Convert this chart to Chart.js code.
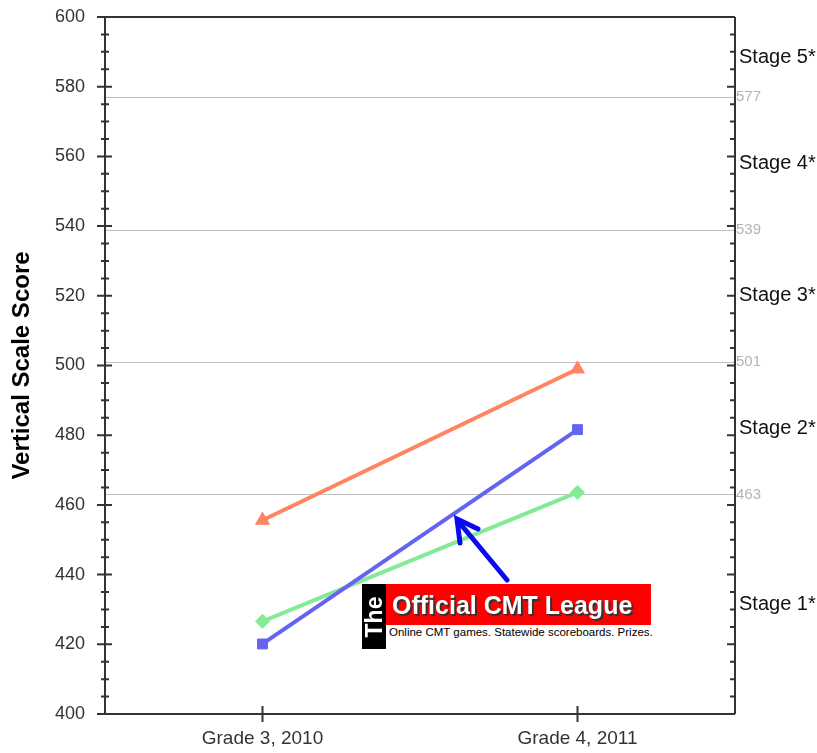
<!DOCTYPE html>
<html>
<head>
<meta charset="utf-8">
<script src="https://cdn.jsdelivr.net/npm/chart.js@4.4.0/dist/chart.umd.min.js"></script>
<style>
  body { margin: 0; background: #fff; }
  #wrap { position: relative; width: 817px; height: 753px; }
  #chart { position: absolute; left: 0; top: 0; }
  .logo { position: absolute; font-family: "Liberation Sans", Arial, sans-serif; }
  .logo-the { left: 362px; top: 584px; width: 24px; height: 65px; background: #000; }
  .logo-the span { position: absolute; left: 50%; top: 50%; transform: translate(-50%, -50%) rotate(-90deg);
    color: #fff; font-weight: bold; font-size: 23px; }
  .logo-red { left: 386px; top: 584px; width: 265px; height: 41px; background: #f00; color: #fff;
    font-weight: bold; font-size: 25px; line-height: 42px; padding-left: 6px; box-sizing: border-box;
    text-shadow: 1px 1px 0 #333, 2px 2px 1px #333; white-space: nowrap; overflow: hidden; }
  .logo-sub { left: 386px; top: 625px; width: 270px; height: 24px; background: #fff; color: #000;
    font-size: 11.5px; line-height: 14px; padding-left: 3px; box-sizing: border-box; white-space: nowrap; }
  #arrow { position: absolute; left: 0; top: 0; }
</style>
</head>
<body>
<div id="wrap">
  <canvas id="chart" width="817" height="753"></canvas>
  <svg id="arrow" width="817" height="753">
    <g stroke="#0a0af0" stroke-width="5" stroke-linecap="round" fill="none">
      <line x1="507" y1="580" x2="458" y2="521"/>
      <polyline points="460,543 457,519 478,529"/>
    </g>
  </svg>
  <div class="logo logo-the"><span>The</span></div>
  <div class="logo logo-red">Official CMT League</div>
  <div class="logo logo-sub">Online CMT games. Statewide scoreboards. Prizes.</div>
</div>
<script>
// data
const categories = ['Grade 3, 2010', 'Grade 4, 2011'];
const seriesOrange = [455.6, 499];
const seriesBlue = [420.1, 481.6];
const seriesGreen = [426.6, 463.6];
const cutScores = [463, 501, 539, 577];
const stageNames = ['Stage 1*', 'Stage 2*', 'Stage 3*', 'Stage 4*', 'Stage 5*'];
const yMin = 400, yMax = 600;

const FONT = '"Liberation Sans", Arial, sans-serif';

// ticks, frame, cut lines and stage labels
const decor = {
	id: 'decor',
	beforeDatasetsDraw(chart) {
		const ctx = chart.ctx, a = chart.chartArea, y = chart.scales.y;
		ctx.save();
		ctx.strokeStyle = '#c0c0c0';
		ctx.lineWidth = 1;
		cutScores.forEach(v => {
			const py = Math.round(y.getPixelForValue(v)) + 0.5;
			ctx.beginPath();
			ctx.moveTo(a.left, py);
			ctx.lineTo(a.right, py);
			ctx.stroke();
		});
		ctx.restore();
	},
	afterDraw(chart) {
		const ctx = chart.ctx, a = chart.chartArea, y = chart.scales.y, x = chart.scales.x;
		ctx.save();
		ctx.strokeStyle = '#333';
		ctx.lineWidth = 2;
		ctx.beginPath();
		ctx.moveTo(a.left - 8, a.top); ctx.lineTo(a.right, a.top);
		ctx.moveTo(a.left - 8, a.bottom); ctx.lineTo(a.right, a.bottom);
		ctx.moveTo(a.left, a.top); ctx.lineTo(a.left, a.bottom);
		ctx.moveTo(a.right, a.top); ctx.lineTo(a.right, a.bottom);
		ctx.stroke();

		for (let v = yMin; v <= yMax; v += 5) {
			const py = y.getPixelForValue(v);
			const major = v % 20 === 0;
			ctx.beginPath();
			if (major) { ctx.moveTo(a.left - 8, py); ctx.lineTo(a.left + 7, py); }
			else { ctx.moveTo(a.left - 4, py); ctx.lineTo(a.left + 4, py); }
			ctx.moveTo(a.right - (major ? 8 : 5), py); ctx.lineTo(a.right, py);
			ctx.stroke();
		}
		categories.forEach((c, i) => {
			const px = x.getPixelForValue(i);
			ctx.beginPath();
			ctx.moveTo(px, a.bottom - 8); ctx.lineTo(px, a.bottom + 8);
			ctx.stroke();
		});

		// stage labels between the cut scores
		const bounds = [yMin].concat(cutScores, [yMax]);
		ctx.fillStyle = '#111';
		ctx.font = '20px ' + FONT;
		ctx.textAlign = 'left';
		ctx.textBaseline = 'middle';
		stageNames.forEach((s, i) => {
			const mid = (bounds[i] + bounds[i + 1]) / 2;
			ctx.fillText(s, a.right + 4, y.getPixelForValue(mid));
		});
		ctx.restore();
	}
};

function line(data, color, style, r) {
	return {
		data: data,
		borderColor: color,
		backgroundColor: color,
		borderWidth: 4,
		pointStyle: style,
		pointRadius: r,
		pointBorderWidth: 1,
		fill: false,
		tension: 0
	};
}

// invisible tick marks give the label gap without adding top padding
const hiddenGrid = len => ({ display: true, drawOnChartArea: false, drawTicks: true, tickLength: len, tickColor: 'rgba(0,0,0,0)' });

new Chart(document.getElementById('chart'), {
	type: 'line',
	data: {
		labels: categories,
		datasets: [
			line(seriesOrange, '#ff8462', 'triangle', 8),
			line(seriesBlue, '#6464f0', 'rect', 7),
			line(seriesGreen, '#84ea98', 'rectRot', 7)
		]
	},
	options: {
		responsive: false,
		animation: false,
		layout: { padding: { top: 17 } },
		plugins: { legend: { display: false }, tooltip: { enabled: false } },
		scales: {
			x: {
				type: 'category',
				offset: true,
				grid: hiddenGrid(11),
				border: { display: false },
				ticks: { color: '#333', font: { family: FONT, size: 19 }, padding: 2, maxRotation: 0 },
				afterFit: s => { s.height = 39; }
			},
			y: {
				position: 'left',
				min: yMin, max: yMax,
				grid: hiddenGrid(18),
				border: { display: false },
				ticks: { stepSize: 20, color: '#333', font: { family: FONT, size: 18 }, padding: 2 },
				title: { display: true, text: 'Vertical Scale Score', color: '#000',
					font: { family: FONT, size: 24, weight: 'bold' }, padding: { top: 8, bottom: 0 } },
				afterFit: s => { s.width = 105; }
			},
			y2: {
				position: 'right',
				min: yMin, max: yMax,
				grid: { display: false, drawTicks: false },
				border: { display: false },
				afterBuildTicks: s => { s.ticks = cutScores.map(v => ({ value: v })); },
				ticks: { color: '#b4b4b4', font: { family: FONT, size: 15 }, padding: 1 },
				afterFit: s => { s.width = 82; }
			}
		}
	},
	plugins: [decor]
});
</script>
</body>
</html>
